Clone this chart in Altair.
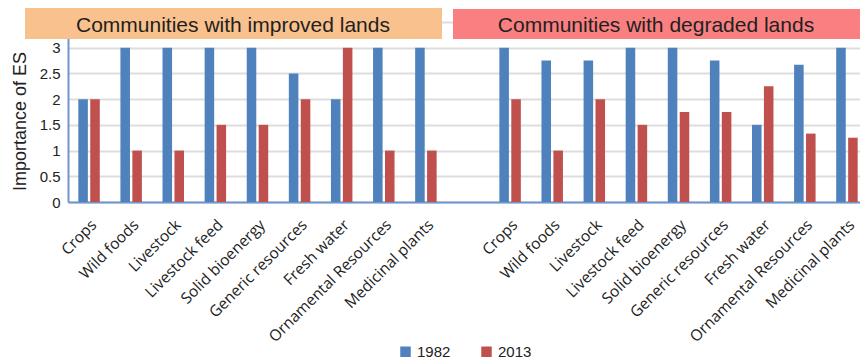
import altair as alt
import pandas as pd

categories = ["Crops", "Wild foods", "Livestock", "Livestock feed", "Solid bioenergy",
              "Generic resources", "Fresh water", "Ornamental Resources", "Medicinal plants"]
years = ["1982", "2013"]
improved_1982 = [2, 3, 3, 3, 3, 2.5, 2, 3, 3]
improved_2013 = [2, 1, 1, 1.5, 1.5, 2, 3, 1, 1]
degraded_1982 = [3, 2.75, 2.75, 3, 3, 2.75, 1.5, 2.67, 3]
degraded_2013 = [2, 1, 2, 1.5, 1.75, 1.75, 2.25, 1.33, 1.25]
panel_titles = ["Communities with improved lands", "Communities with degraded lands"]
y_ticks = [0, 0.5, 1, 1.5, 2, 2.5, 3, 3.5]

rows = []
for prefix, v82, v13 in [("I", improved_1982, improved_2013), ("D", degraded_1982, degraded_2013)]:
    for c, a, b in zip(categories, v82, v13):
        rows.append({"slot": f"{prefix}|{c}", "year": years[0], "value": a})
        rows.append({"slot": f"{prefix}|{c}", "year": years[1], "value": b})
df = pd.DataFrame(rows)
domain = [f"I|{c}" for c in categories] + ["|"] + [f"D|{c}" for c in categories]

bars = alt.Chart(df).mark_bar().encode(
    x=alt.X("slot:N", sort=domain,
            scale=alt.Scale(domain=domain, range=[0, 800], paddingInner=0.49, paddingOuter=0.245),
            axis=alt.Axis(title=None, labelAngle=-45,
                          labelExpr="slice(datum.label, indexof(datum.label, '|') + 1)",
                          labelFont="Open Sans", labelFontSize=15.5, labelColor="#222222",
                          labelPadding=15, ticks=False, grid=False, labelOverlap=False,
                          domainColor="#6F95CE", domainWidth=2)),
    xOffset=alt.XOffset("year:N", scale=alt.Scale(domain=years, paddingInner=0.2)),
    y=alt.Y("value:Q", scale=alt.Scale(domain=[0, 3.5], nice=False),
            axis=alt.Axis(values=y_ticks, title="Importance of ES",
                          labelExpr="datum.value > 3 ? '' : '' + datum.value",
                          labelFont="Liberation Sans", labelFontSize=15, labelColor="#222222",
                          labelPadding=8, ticks=False,
                          domainColor="#6F95CE", domainWidth=2,
                          gridColor="#DDDDDD", gridWidth=2,
                          titleFont="Liberation Sans", titleFontSize=18, titleFontWeight="normal",
                          titleColor="#222222", titleX=-43, titleY=99, titleAngle=-90,
                          titleBaseline="alphabetic", titleAlign="center")),
    color=alt.Color("year:N", scale=alt.Scale(domain=years, range=["#4F81BD", "#C0504D"]),
                    legend=alt.Legend(title=None, orient="none", legendX=330, legendY=322,
                                      direction="horizontal", symbolType="square", symbolSize=110,
                                      symbolStrokeWidth=0, labelFont="Liberation Sans",
                                      labelFontSize=15, labelColor="#222222", labelOffset=4,
                                      columnPadding=28)),
)

hdr_df1 = pd.DataFrame({"t": [panel_titles[0]]})
hdr_df2 = pd.DataFrame({"t": [panel_titles[1]]})

box1 = alt.Chart(hdr_df1).mark_rect(color="#F9C18E").encode(
    x=alt.value(-43), x2=alt.value(374), y=alt.value(-14), y2=alt.value(17))
txt1 = alt.Chart(hdr_df1).mark_text(font="Liberation Sans", fontSize=21, color="#231F20",
                                    baseline="alphabetic", align="center").encode(
    text="t:N", x=alt.value(165), y=alt.value(10))
box2 = alt.Chart(hdr_df2).mark_rect(color="#FA7F80").encode(
    x=alt.value(385), x2=alt.value(793), y=alt.value(-13), y2=alt.value(17))
txt2 = alt.Chart(hdr_df2).mark_text(font="Liberation Sans", fontSize=21, color="#231F20",
                                    baseline="alphabetic", align="center").encode(
    text="t:N", x=alt.value(588), y=alt.value(10))

chart = alt.layer(bars, box1, txt1, box2, txt2).properties(
    width=792, height=180,
    autosize=alt.AutoSizeParams(type="none"),
    padding={"left": 60, "top": 14, "right": 0, "bottom": 160},
    background="white",
).configure_view(stroke=None)

chart.save("out.html", embed_options={"renderer": "svg", "actions": False})
